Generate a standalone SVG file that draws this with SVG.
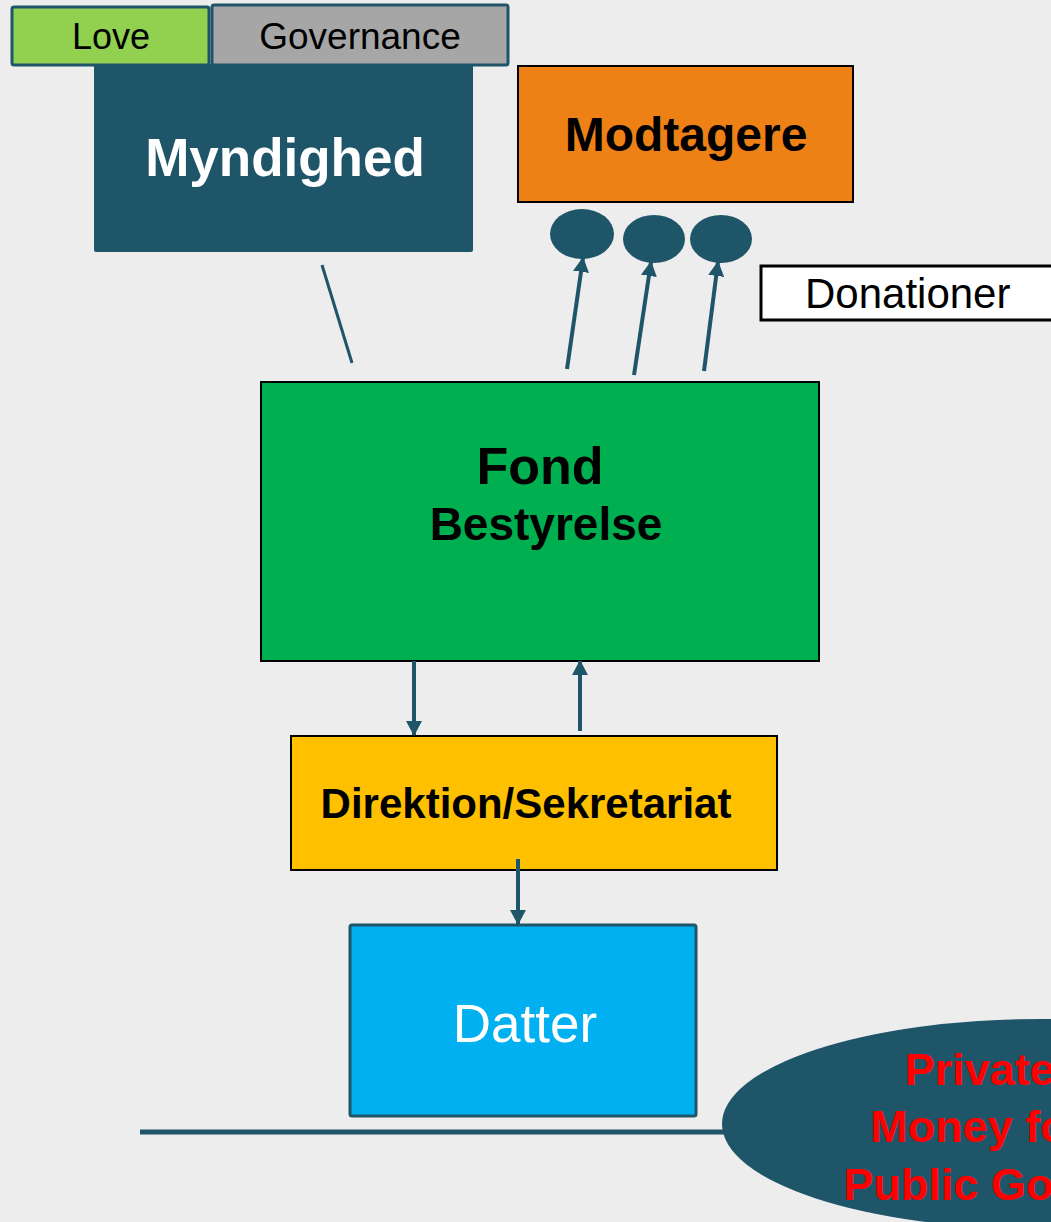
<svg xmlns="http://www.w3.org/2000/svg" width="1051" height="1222" viewBox="0 0 1051 1222">
<style>
.t{font-family:"Liberation Sans",Arial,sans-serif}
.b{font-weight:bold}
.c{stroke:#1F5568;stroke-width:4;fill:none}
</style>
<defs>
<marker id="ah" viewBox="0 0 15 16" refX="14" refY="8" markerWidth="15" markerHeight="16" markerUnits="userSpaceOnUse" orient="auto">
<path d="M0,0 L15,8 L0,16 z" fill="#1F5568"/>
</marker>
</defs>
<rect width="1051" height="1222" fill="#EDEDED"/>
<g id="myndighed">
<rect x="94" y="64" width="379" height="188" rx="2" fill="#1F5568"/>
<text class="t b" x="285" y="176" font-size="53" fill="#FFFFFF" text-anchor="middle">Myndighed</text>
</g>
<g id="love">
<rect x="12" y="7" width="197" height="58" rx="2" fill="#92D050" stroke="#1F5568" stroke-width="3"/>
<text class="t" x="111" y="49" font-size="36" fill="#000" text-anchor="middle">Love</text>
</g>
<g id="governance">
<rect x="212" y="5" width="296" height="60" rx="2" fill="#A6A6A6" stroke="#1F5568" stroke-width="3"/>
<text class="t" x="360" y="49" font-size="37" fill="#000" text-anchor="middle">Governance</text>
</g>
<g id="modtagere">
<rect x="518" y="66" width="335" height="136" fill="#EE8115" stroke="#000" stroke-width="2"/>
<text class="t b" x="686" y="151" font-size="48" fill="#000" text-anchor="middle">Modtagere</text>
</g>
<g id="m1"><ellipse cx="582" cy="234" rx="32" ry="25" fill="#1F5568"/></g>
<g id="m2"><ellipse cx="654" cy="239" rx="31" ry="24" fill="#1F5568"/></g>
<g id="m3"><ellipse cx="721" cy="239" rx="31" ry="24" fill="#1F5568"/></g>
<g id="donationer">
<rect x="761" y="266" width="300" height="54" fill="#FFFFFF" stroke="#000" stroke-width="3"/>
<text class="t" x="805" y="308" font-size="42" fill="#000">Donationer</text>
</g>
<g id="fond">
<rect x="261" y="382" width="558" height="279" fill="#00B050" stroke="#000" stroke-width="2"/>
<text class="t b" x="540" y="484" font-size="52" fill="#000" text-anchor="middle">Fond</text>
<text class="t b" x="546" y="540" font-size="46" fill="#000" text-anchor="middle">Bestyrelse</text>
</g>
<g id="direktion">
<rect x="291" y="736" width="486" height="134" fill="#FFC000" stroke="#000" stroke-width="2"/>
<text class="t b" x="526" y="818" font-size="42" fill="#000" text-anchor="middle">Direktion/Sekretariat</text>
</g>
<g id="datter">
<rect x="350" y="925" width="346" height="191" rx="2" fill="#00B0F0" stroke="#1F5568" stroke-width="3"/>
<text class="t" x="525" y="1042" font-size="53" fill="#FFFFFF" text-anchor="middle">Datter</text>
</g>
<g id="connectors">
<line x1="322" y1="265" x2="352" y2="363" stroke="#1F5568" stroke-width="3"/>
<line class="c" x1="567" y1="369" x2="583" y2="258" marker-end="url(#ah)"/>
<line class="c" x1="634" y1="375" x2="651" y2="262" marker-end="url(#ah)"/>
<line class="c" x1="704" y1="371" x2="718" y2="262" marker-end="url(#ah)"/>
<line class="c" x1="414" y1="661" x2="414" y2="735" marker-end="url(#ah)"/>
<line class="c" x1="580" y1="731" x2="580" y2="661" marker-end="url(#ah)"/>
<line class="c" x1="518" y1="859" x2="518" y2="924" marker-end="url(#ah)"/>
<line x1="140" y1="1132" x2="740" y2="1132" stroke="#1F5568" stroke-width="5"/>
</g>
<g id="private">
<ellipse cx="1040" cy="1124" rx="318" ry="105" fill="#1F5568"/>
<text class="t b" font-size="45" fill="#FF0000" text-anchor="middle">
<tspan x="986" y="1085">Private</tspan>
<tspan x="984" y="1142">Money for</tspan>
<tspan x="976" y="1200">Public Good</tspan>
</text>
</g>
</svg>
